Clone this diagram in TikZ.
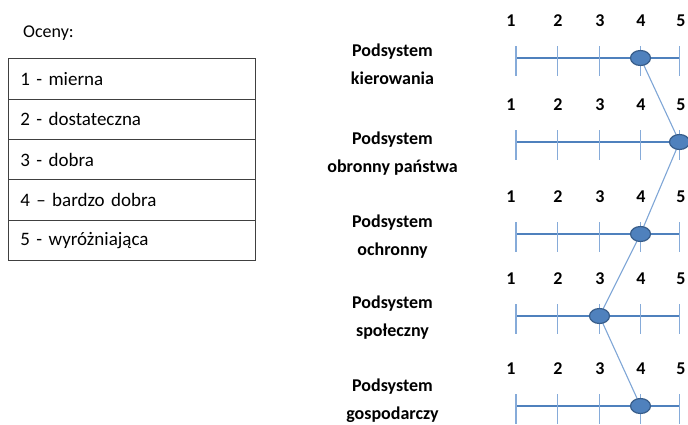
\documentclass[tikz,border=0pt]{standalone}
\usepackage{fontspec}
\setmainfont{Carlito}
\usetikzlibrary{shapes.geometric,backgrounds}
\definecolor{axisblue}{HTML}{4F81BD}
\definecolor{tickblue}{HTML}{86ABD9}
\definecolor{dotedge}{HTML}{385D8A}
\definecolor{linkblue}{HTML}{7FA6D6}
\definecolor{boxgray}{HTML}{404040}
\begin{document}
\begin{tikzpicture}[x=1pt,y=-1pt,
  rowbox/.style={draw=boxgray,line width=0.9pt,anchor=north west,minimum width=246.7pt,minimum height=40.3pt,
    text width=223.3pt,inner xsep=11.7pt,inner ysep=0pt,align=left,font=\fontsize{19}{22}\selectfont},
  sublab/.style={align=center,font=\fontsize{18}{28}\selectfont\bfseries,inner sep=0pt},
  numlab/.style={font=\fontsize{18}{22}\selectfont\bfseries,inner sep=0pt},
  axisline/.style={axisblue,line width=1.6pt},
  tickline/.style={tickblue,line width=1.6pt},
  dotmark/.style={ellipse,fill=axisblue,draw=dotedge,line width=1.2pt,minimum width=20pt,minimum height=15pt,inner sep=0pt},
  linkline/.style={linkblue,line width=1.1pt}]
\useasboundingbox (0,0) rectangle (688,424);
% legend
\node[anchor=west,inner sep=0pt,font=\fontsize{18}{22}\selectfont] (title) at (23,33) {Oceny:};
\node[rowbox] (r1) at (8.3,58.3) {1 - mierna};
\node[rowbox] (r2) at (8.3,98.6) {2 - dostateczna};
\node[rowbox] (r3) at (8.3,138.9) {3 - dobra};
\node[rowbox] (r4) at (8.3,179.2) {4 -- bardzo dobra};
\node[rowbox] (r5) at (8.3,219.5) {5 - wyróżniająca};
% labels
\node[sublab] (s1) at (392.5,64) {Podsystem\\kierowania};
\node[sublab] (s2) at (392.5,154) {Podsystem\\obronny państwa};
\node[sublab] (s3) at (392.5,236.5) {Podsystem\\ochronny};
\node[sublab] (s4) at (392.5,318) {Podsystem\\społeczny};
\node[sublab] (s5) at (392.5,401) {Podsystem\\gospodarczy};
% axes
\foreach \i/\y/\dx in {1/58/640.5, 2/142/679.5, 3/234/640.5, 4/316/599.5, 5/406/640.5} {
  \draw[axisline] (516,\y) -- (679.5,\y);
  \foreach \t/\x/\lx in {1/516/511, 2/557.5/558, 3/599.5/600, 4/640.5/641, 5/679.5/681} {
    \draw[tickline] (\x,\y-12) -- (\x,\y+18);
    \node[numlab] (n\i-\t) at (\lx,\y-37.5) {\t};
  }
  \node[dotmark] (d\i) at (\dx,\y) {};
}
\begin{scope}[on background layer]
\draw[linkline] (d1.center) -- (d2.center) -- (d3.center) -- (d4.center) -- (d5.center);
\end{scope}
\end{tikzpicture}
\end{document}
